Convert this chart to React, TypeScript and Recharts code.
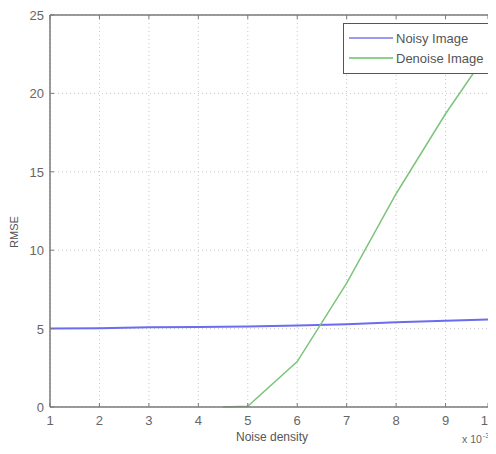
import { LineChart, Line, XAxis, YAxis, CartesianGrid } from "recharts"

const densities = [1, 2, 3, 4, 4.5, 5, 6, 7, 8, 9, 10]
const noisyRmse = [5.0, 5.03, 5.08, 5.1, 5.12, 5.14, 5.2, 5.28, 5.4, 5.5, 5.6]
const denoiseRmse = [null, null, null, null, 0, 0.05, 2.9, 7.9, 13.6, 18.7, 23.3]
const xTicks = [1, 2, 3, 4, 5, 6, 7, 8, 9, 10]
const yTicks = [0, 5, 10, 15, 20, 25]

const SERIES = [
  { key: "noisy", name: "Noisy Image", color: "#6c6cf0", width: 2, legend: "#9a9af2" },
  { key: "denoise", name: "Denoise Image", color: "#7cc47c", width: 1.5, legend: "#8fcf8f" },
]

const data = densities.map((d, i) => ({
  density: d,
  noisy: noisyRmse[i],
  denoise: denoiseRmse[i],
}))

const FONT = "'Liberation Sans', Arial, sans-serif"
const AXIS = "#7a7a7a"
const LABEL = "#666"

// bottom tick: label below, small tick pointing into the plot
function BottomTick(props: any) {
  const { x, y, payload } = props
  return (
    <g>
      <line x1={x} x2={x} y1={y - 8} y2={y - 12} stroke={AXIS} />
      <text x={x} y={y} dy={10} textAnchor="middle" fill={LABEL} fontSize={13} fontFamily={FONT}>
        {payload.value}
      </text>
    </g>
  )
}

function TopTick(props: any) {
  const { x, y } = props
  return <line x1={x} x2={x} y1={y + 8} y2={y + 12} stroke={AXIS} />
}

function LeftTick(props: any) {
  const { x, y, payload } = props
  return (
    <g>
      <line x1={x + 8} x2={x + 12} y1={y} y2={y} stroke={AXIS} />
      <text x={x + 2} y={y} dy={5} textAnchor="end" fill={LABEL} fontSize={13} fontFamily={FONT}>
        {payload.value}
      </text>
    </g>
  )
}

function RightTick(props: any) {
  const { x, y } = props
  return <line x1={x - 8} x2={x - 12} y1={y} y2={y} stroke={AXIS} />
}

export default function App() {
  return (
    <div style={{ margin: -8, width: 496, height: 454, position: "relative", background: "#fff" }}>
      <LineChart
        width={496}
        height={454}
        data={data}
        margin={{ top: 0, right: 1, bottom: 17, left: 10 }}
      >
        <CartesianGrid stroke="#c8c8c8" strokeDasharray="1 3" horizontalValues={yTicks} verticalValues={xTicks} />
        <XAxis
          dataKey="density"
          type="number"
          domain={[1, 10]}
          ticks={xTicks}
          height={30}
          stroke={AXIS}
          strokeWidth={1.5}
          tickSize={0}
          tickMargin={8}
          tick={<BottomTick />}
        />
        <XAxis
          xAxisId="top"
          dataKey="density"
          type="number"
          domain={[1, 10]}
          ticks={xTicks}
          orientation="top"
          height={15}
          stroke={AXIS}
          strokeWidth={1.5}
          tickSize={0}
          tickMargin={8}
          tick={<TopTick />}
        />
        <YAxis
          domain={[0, 25]}
          ticks={yTicks}
          width={40}
          stroke={AXIS}
          strokeWidth={1.5}
          tickSize={0}
          tickMargin={8}
          tick={<LeftTick />}
        />
        <YAxis
          yAxisId="right"
          orientation="right"
          domain={[0, 25]}
          ticks={yTicks}
          width={0}
          stroke={AXIS}
          strokeWidth={1.5}
          tickSize={0}
          tickMargin={8}
          tick={<RightTick />}
        />
        {SERIES.map((s) => (
          <Line
            key={s.key}
            name={s.name}
            dataKey={s.key}
            stroke={s.color}
            strokeWidth={s.width}
            dot={false}
            isAnimationActive={false}
          />
        ))}
      </LineChart>

      {/* matlab-style boxed legend */}
      <div
        style={{
          position: "absolute",
          top: 23,
          left: 343,
          width: 148,
          height: 51,
          boxSizing: "border-box",
          border: "1.5px solid #555",
          background: "#fff",
          padding: "4px 0 0 5px",
          fontFamily: FONT,
          fontSize: 13,
          color: "#555",
        }}
      >
        {SERIES.map((s) => (
          <div key={s.key} style={{ display: "flex", alignItems: "center", height: 20 }}>
            <span style={{ display: "inline-block", width: 44, height: 0, borderTop: `2px solid ${s.legend}`, marginRight: 3 }} />
            <span>{s.name}</span>
          </div>
        ))}
      </div>

      <div
        style={{
          position: "absolute",
          left: 14,
          top: 232,
          transform: "translate(-50%, -50%) rotate(-90deg)",
          fontFamily: FONT,
          fontSize: 11,
          color: "#555",
        }}
      >
        RMSE
      </div>
      <div
        style={{
          position: "absolute",
          left: 272,
          top: 437,
          transform: "translate(-50%, -50%)",
          fontFamily: FONT,
          fontSize: 12,
          color: "#555",
          whiteSpace: "nowrap",
        }}
      >
        Noise density
      </div>
      <div
        style={{
          position: "absolute",
          left: 462,
          top: 431,
          fontFamily: FONT,
          fontSize: 10.5,
          lineHeight: "16px",
          color: "#666",
          whiteSpace: "nowrap",
        }}
      >
        x 10<span style={{ fontSize: 7.5, position: "relative", top: -5, marginLeft: 1 }}>-3</span>
      </div>
    </div>
  )
}
